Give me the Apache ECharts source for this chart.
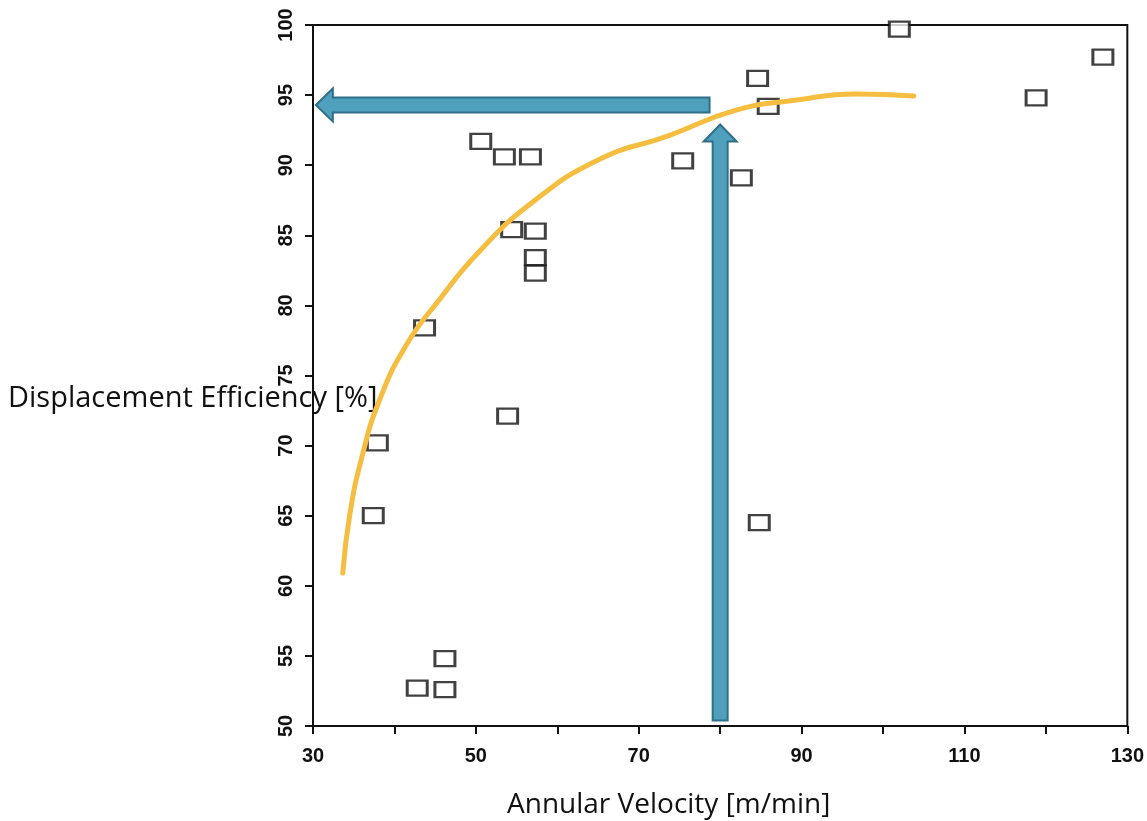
<!DOCTYPE html>
<html>
<head>
<meta charset="utf-8">
<script src="https://cdn.jsdelivr.net/npm/echarts@6/dist/echarts.min.js"></script>
<style>
html,body{margin:0;padding:0;background:#fff;}
#chart{width:1147px;height:821px;}
</style>
</head>
<body>
<div id="chart"></div>
<script>
// Measured points: [annular velocity (m/min), displacement efficiency (%)]
const velocity = [102.0, 127.0, 118.8, 84.6, 85.9, 75.4, 82.6, 50.6, 53.5, 56.7, 54.4, 57.3, 57.3, 57.3, 43.7, 53.9, 37.9, 37.4, 84.8, 46.2, 42.8, 46.2];
const efficiency = [99.7, 97.7, 94.8, 96.2, 94.2, 90.3, 89.1, 91.7, 90.6, 90.6, 85.4, 85.3, 83.4, 82.3, 78.4, 72.1, 70.2, 65.0, 64.5, 54.8, 52.7, 52.6];

// Hand-drawn trend curve
const trendX = [33.66, 34.51, 35.98, 38.17, 41.46, 45.49, 50.37, 56.83, 65.0, 73.54, 82.07, 89.39, 96.71, 103.78];
const trendY = [60.91, 65.05, 69.12, 73.25, 77.18, 80.39, 83.81, 87.30, 90.37, 92.08, 93.94, 94.65, 95.08, 94.94];

// Arrows: [fromX, fromY, toX, toY]
const arrowFrom = [[78.7, 94.3], [80.0, 50.4]];
const arrowTo = [[30.35, 94.3], [80.0, 92.9]];

const xTicks = [30, 50, 70, 90, 110, 130];

const points = velocity.map((v, i) => [v, efficiency[i]]);
const trend = trendX.map((v, i) => [v, trendY[i]]);
const arrows = arrowFrom.map((f, i) => [f[0], f[1], arrowTo[i][0], arrowTo[i][1]]);

const chart = echarts.init(document.getElementById('chart'), null, {renderer: 'canvas'});

function renderArrow(params, api) {
  const p0 = api.coord([api.value(0), api.value(1)]);
  const p1 = api.coord([api.value(2), api.value(3)]);
  const dx = p1[0] - p0[0], dy = p1[1] - p0[1];
  const len = Math.sqrt(dx * dx + dy * dy);
  const ux = dx / len, uy = dy / len;
  const nx = -uy, ny = ux;
  const sw = 7.5, hw = 16.5, hl = 17;
  const bx = p1[0] - ux * hl, by = p1[1] - uy * hl;
  const pts = [
    [p0[0] + nx * sw, p0[1] + ny * sw],
    [bx + nx * sw, by + ny * sw],
    [bx + nx * hw, by + ny * hw],
    [p1[0], p1[1]],
    [bx - nx * hw, by - ny * hw],
    [bx - nx * sw, by - ny * sw],
    [p0[0] - nx * sw, p0[1] - ny * sw]
  ];
  return {
    type: 'polygon',
    shape: {points: pts},
    style: {fill: '#4FA0BC', stroke: '#2F6F87', lineWidth: 2}
  };
}

const option = {
  backgroundColor: '#fff',
  animation: false,
  grid: {left: 313, right: 14, top: 25, bottom: 95, show: true, borderColor: '#111', borderWidth: 2, backgroundColor: 'transparent'},
  xAxis: {
    type: 'value', min: 30, max: 130, interval: 10,
    axisLine: {lineStyle: {color: '#111', width: 2}},
    axisTick: {inside: false, length: 8, lineStyle: {color: '#111', width: 2}},
    splitLine: {show: false},
    axisLabel: {
      margin: 20, color: '#111', fontFamily: 'Liberation Sans', fontWeight: 'bold', fontSize: 20,
      formatter: v => xTicks.indexOf(v) >= 0 ? String(v) : ''
    }
  },
  yAxis: {
    type: 'value', min: 50, max: 100, interval: 5,
    axisLine: {lineStyle: {color: '#111', width: 2}},
    axisTick: {inside: false, length: 8, lineStyle: {color: '#111', width: 2}},
    splitLine: {show: false},
    axisLabel: {rotate: 90, margin: 17, color: '#111', fontFamily: 'Liberation Sans', fontWeight: 'bold', fontSize: 20}
  },
  graphic: [
    {type: 'text', x: 8, y: 384, style: {text: 'Displacement Efficiency [%]', fill: '#111', font: '29px "Open Sans"'}},
    {type: 'text', x: 507, y: 791, style: {text: 'Annular Velocity [m/min]', fill: '#111', font: '28px "Open Sans"'}}
  ],
  series: [
    {
      type: 'scatter', data: points, symbol: 'rect', symbolSize: [20, 15],
      itemStyle: {color: '#fff', borderColor: '#111', borderWidth: 2.6}, z: 2
    },
    {
      type: 'line', data: trend, smooth: 0.5, showSymbol: false, symbol: 'none',
      lineStyle: {color: '#F5BE41', width: 5, cap: 'round'}, z: 3
    },
    {
      type: 'custom', data: arrows, renderItem: renderArrow, z: 4,
      encode: {x: [0, 2], y: [1, 3]}
    }
  ]
};
chart.setOption(option);
</script>
</body>
</html>
